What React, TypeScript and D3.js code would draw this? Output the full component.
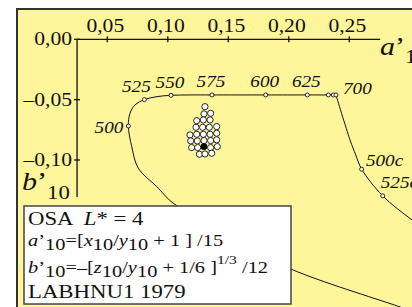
import React from "react";
import * as d3 from "d3";

// spectral locus (a'10, b'10)
const locus: [number, number][] = [
  [0.3084, -0.2274], [0.2892, -0.2208], [0.2018, -0.1904], [0.1514, -0.1645],
  [0.1045, -0.1358], [0.0908, -0.122], [0.0756, -0.1068], [0.0702, -0.0889],
  [0.0674, -0.0718], [0.0688, -0.0613], [0.0729, -0.0544], [0.0806, -0.05],
  [0.0911, -0.0475], [0.1026, -0.0464], [0.1183, -0.0461], [0.1365, -0.0461],
  [0.1809, -0.0461], [0.2153, -0.0461], [0.2327, -0.0461], [0.239, -0.0461],
];
// purple line from 700 nm
const purple: [number, number][] = [
  [0.239, -0.0461], [0.2506, -0.0834], [0.2553, -0.0958], [0.2602, -0.1076],
  [0.2776, -0.1297], [0.3018, -0.1496], [0.3167, -0.1595],
];

const markLabels = ["500", "525", "550", "575", "600", "625", "", "", "700", "500c", "525c"];
const markA = [0.0674, 0.0806, 0.1026, 0.1365, 0.1809, 0.2153, 0.2327, 0.2368, 0.239, 0.2602, 0.2776];
const markB = [-0.0718, -0.05, -0.0464, -0.0461, -0.0461, -0.0461, -0.0461, -0.0461, -0.0461, -0.1076, -0.1297];

// OSA samples L* = 4
const clusterA = [
  0.1307, 0.1299, 0.1354, 0.1239, 0.1294, 0.1349, 0.1233, 0.1288, 0.1343, 0.1404,
  0.1183, 0.1239, 0.1294, 0.1349, 0.1404, 0.1189, 0.1244, 0.1299, 0.1354, 0.1404,
  0.1197, 0.1247, 0.1354, 0.1409, 0.1261, 0.1307, 0.1363,
];
const clusterB = [
  -0.0558, -0.0618, -0.0613, -0.0674, -0.0668, -0.0668, -0.0729, -0.0729, -0.0729, -0.0723,
  -0.0792, -0.0787, -0.0787, -0.0787, -0.0778, -0.0842, -0.0842, -0.0839, -0.0839, -0.0833,
  -0.0897, -0.0897, -0.0897, -0.0889, -0.0952, -0.095, -0.0944,
];
const centerA = 0.1299;
const centerB = -0.0889;

const xTicks = [0.05, 0.1, 0.15, 0.2, 0.25];
const yTicks = [0, -0.05, -0.1];

const W = 412;
const H = 307;
const SX = 1.2; // glyphs are stretched horizontally in the original
const FONT = "'Liberation Serif', 'Times New Roman', serif";

// label offsets in px from their marker: [dx, dy, anchor]
const labelPos: Record<string, [number, number, string]> = {
  "500": [-5, 7, "end"],
  "525": [-8, -7.5, "middle"],
  "550": [-1, -7.6, "middle"],
  "575": [-1, -7.7, "middle"],
  "600": [-1, -7.7, "middle"],
  "625": [-1, -7.7, "middle"],
  "700": [7, -0.7, "start"],
  "500c": [4.3, -3.6, "start"],
  "525c": [-2, -7.7, "start"],
};

function T({ x, y, size, anchor = "start", italic = false, children }: any) {
  return (
    <text
      transform={`translate(${x},${y}) scale(${SX},1)`}
      fontSize={size}
      textAnchor={anchor}
      fontStyle={italic ? "italic" : "normal"}
      fontFamily={FONT}
      fill="#111"
      style={{ whiteSpace: "pre" }}
    >
      {children}
    </text>
  );
}

export default function App() {
  const x = d3.scaleLinear().domain([0, 0.25]).range([46.8, 349.3]);
  const y = d3.scaleLinear().domain([0, -0.1]).range([39.3, 160]);
  const line = d3
    .line<[number, number]>()
    .x((d) => x(d[0]))
    .y((d) => y(d[1]))
    .curve(d3.curveCatmullRom.alpha(0.5));

  const fmt = (v: number) => d3.format(".2f")(Math.abs(v)).replace(".", ",");
  const ax0 = x(0.025);
  const ax1 = x(0.2755);
  const ay0 = y(0);
  const ay1 = y(-0.1307);

  return (
    <svg width={W} height={H} style={{ position: "absolute", left: 0, top: 0 }}>
      <rect x={0} y={0} width={W} height={H} fill="#ffffff" />
      <rect x={17} y={9} width={W} height={H} fill="#fff59b" stroke="#333" strokeWidth={2} />

      {/* axes */}
      <g stroke="#111" strokeWidth={1.3}>
        <line x1={ax0} x2={ax1} y1={ay0} y2={ay0} />
        <line x1={ax0} x2={ax0} y1={ay0} y2={ay1} />
        {xTicks.map((t) => (
          <line key={t} x1={x(t)} x2={x(t)} y1={ay0 - 3} y2={ay0 + 3} />
        ))}
        {yTicks.map((t) => (
          <line key={t} x1={ax0 - 3} x2={ax0 + 3} y1={y(t)} y2={y(t)} />
        ))}
      </g>
      {xTicks.map((t) => (
        <T key={t} x={x(t) - 2} y={32} size={18} anchor="middle">
          {fmt(t)}
        </T>
      ))}
      {yTicks.map((t) => (
        <T key={t} x={ax0 - 5} y={y(t) + 6} size={18} anchor="end">
          {(t < 0 ? "\u2013" : "") + fmt(t)}
        </T>
      ))}
      <T x={380} y={55} size={25} italic>
        a<tspan fontStyle="normal">’</tspan>
        <tspan dy={8} fontStyle="normal" fontSize={19}>10</tspan>
      </T>
      <T x={22} y={190} size={25} italic>
        b<tspan fontStyle="normal">’</tspan>
        <tspan dy={9} fontStyle="normal" fontSize={19}>10</tspan>
      </T>

      {/* locus */}
      <path d={line(locus) ?? ""} fill="none" stroke="#111" strokeWidth={1} />
      <path d={line(purple) ?? ""} fill="none" stroke="#111" strokeWidth={1} />
      {markA.map((a, i) => (
        <circle key={i} cx={x(a)} cy={y(markB[i])} r={2} fill="#fff" stroke="#111" strokeWidth={0.9} />
      ))}
      {markLabels.map((l, i) => {
        if (!l) return null;
        const [dx, dy, anchor] = labelPos[l];
        return (
          <T key={l} x={x(markA[i]) + dx} y={y(markB[i]) + dy} size={16} anchor={anchor} italic>
            {l}
          </T>
        );
      })}

      {/* samples */}
      {clusterA.map((a, i) => (
        <circle key={i} cx={x(a)} cy={y(clusterB[i])} r={3.1} fill="#fff" stroke="#111" strokeWidth={0.9} />
      ))}
      <circle cx={x(centerA)} cy={y(centerB)} r={3.1} fill="#000" stroke="#111" strokeWidth={0.9} />

      {/* legend */}
      <rect x={24} y={206} width={267} height={98} fill="#fff" stroke="#444" strokeWidth={1.5} />
      <T x={28} y={225} size={19}>
        OSA  <tspan fontStyle="italic">L</tspan>* = 4
      </T>
      <T x={28} y={246} size={17}>
        <tspan fontStyle="italic">a</tspan>’<tspan dy={4}>10</tspan>
        <tspan dy={-4}>=[</tspan><tspan fontStyle="italic">x</tspan><tspan dy={4}>10</tspan>
        <tspan dy={-4}>/</tspan><tspan fontStyle="italic">y</tspan><tspan dy={4}>10</tspan>
        <tspan dy={-4}> + 1 ] /15</tspan>
      </T>
      <T x={28} y={273} size={17}>
        <tspan fontStyle="italic">b</tspan>’<tspan dy={4}>10</tspan>
        <tspan dy={-4}>=–[</tspan><tspan fontStyle="italic">z</tspan><tspan dy={4}>10</tspan>
        <tspan dy={-4}>/</tspan><tspan fontStyle="italic">y</tspan><tspan dy={4}>10</tspan>
        <tspan dy={-4}> + 1/6 ]</tspan>
        <tspan dy={-9} fontSize={13}>1/3</tspan>
        <tspan dy={9}> /12</tspan>
      </T>
      <T x={28} y={298} size={19}>
        LABHNU1 1979
      </T>
    </svg>
  );
}
